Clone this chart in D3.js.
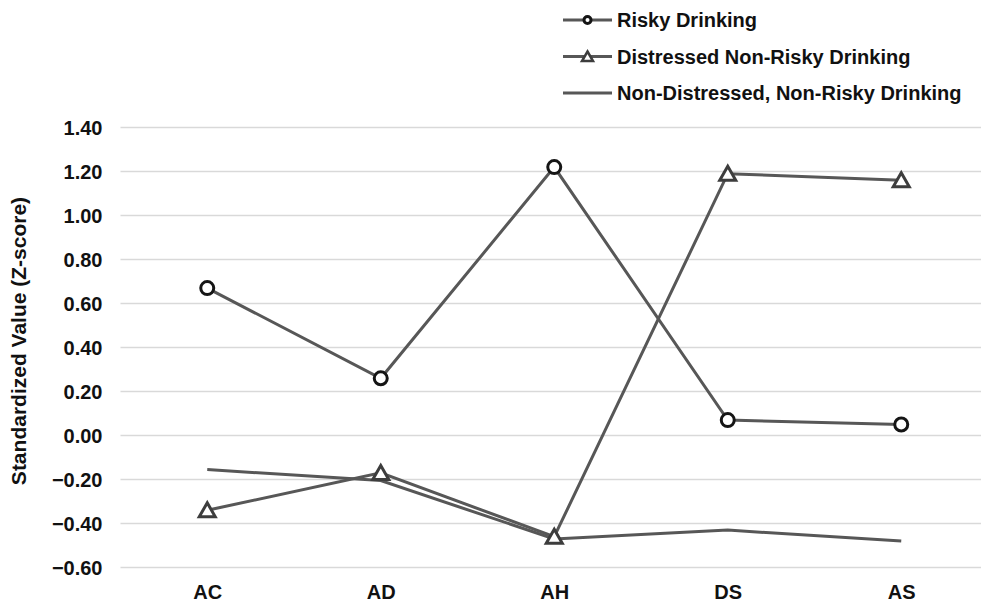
<!DOCTYPE html>
<html>
<head>
<meta charset="utf-8">
<script src="https://cdn.jsdelivr.net/npm/d3@7"></script>
<style>
  html, body { margin: 0; padding: 0; background: #fff; }
  svg { display: block; font-family: "Liberation Sans", Arial, sans-serif; font-weight: bold; }
</style>
</head>
<body>
<svg id="chart" width="981" height="604"></svg>
<script>
// Profile means per group across the five measures
const categories = ["AC", "AD", "AH", "DS", "AS"];
const riskyDrinking = [0.67, 0.26, 1.22, 0.07, 0.05];
const distressedNonRisky = [-0.34, -0.17, -0.46, 1.19, 1.16];
const nonDistressedNonRisky = [-0.155, -0.205, -0.47, -0.43, -0.48];
const yTicks = [-0.6, -0.4, -0.2, 0, 0.2, 0.4, 0.6, 0.8, 1.0, 1.2, 1.4];
const seriesNames = ["Risky Drinking", "Distressed Non-Risky Drinking", "Non-Distressed, Non-Risky Drinking"];

const svg = d3.select("#chart");
const plot = { left: 120.5, right: 988, top: 127.5, bottom: 567.5 };

const x = d3.scalePoint().domain(categories).range([plot.left, plot.right]).padding(0.5);
const y = d3.scaleLinear().domain([-0.6, 1.4]).range([plot.bottom, plot.top]);

// horizontal gridlines
svg.append("g").selectAll("line").data(yTicks).join("line")
  .attr("x1", plot.left).attr("x2", plot.right)
  .attr("y1", d => y(d)).attr("y2", d => y(d))
  .attr("stroke", "#d9d9d9").attr("stroke-width", 1.5);

// y axis labels
const yAxis = svg.append("g").attr("transform", `translate(${plot.left - 18},0)`)
  .call(d3.axisLeft(y).tickValues(yTicks).tickFormat(d3.format(".2f")).tickSize(0).tickPadding(0));
yAxis.select(".domain").remove();
yAxis.selectAll("text").attr("font-size", 20).attr("font-weight", "bold")
  .attr("font-family", "Liberation Sans, Arial, sans-serif").attr("fill", "#111").attr("dy", "0.36em");

// x axis labels
const xAxis = svg.append("g").attr("transform", `translate(0,${plot.bottom + 17})`)
  .call(d3.axisBottom(x).tickSize(0).tickPadding(0));
xAxis.select(".domain").remove();
xAxis.selectAll("text").attr("font-size", 20).attr("font-weight", "bold")
  .attr("font-family", "Liberation Sans, Arial, sans-serif").attr("fill", "#111").attr("dy", "0.72em");

// y axis title
svg.append("text")
  .attr("transform", `translate(18.5,341) rotate(-90)`)
  .attr("text-anchor", "middle").attr("dy", "0.35em")
  .attr("font-size", 21).attr("fill", "#111")
  .text("Standardized Value (Z-score)");

const line = d3.line().x((d, i) => x(categories[i])).y(d => y(d));
const lineColor = "#575757";
const triPath = "M0,-7.5 L8,6.5 L-8,6.5 Z";

// non-distressed series (no markers)
svg.append("path").datum(nonDistressedNonRisky).attr("d", line)
  .attr("fill", "none").attr("stroke", lineColor).attr("stroke-width", 3);

// distressed series with triangles
svg.append("path").datum(distressedNonRisky).attr("d", line)
  .attr("fill", "none").attr("stroke", lineColor).attr("stroke-width", 3);
svg.append("g").selectAll("path").data(distressedNonRisky).join("path")
  .attr("d", triPath)
  .attr("transform", (d, i) => `translate(${x(categories[i])},${y(d)})`)
  .attr("fill", "#fff").attr("stroke", "#3d3d3d").attr("stroke-width", 3);

// risky drinking series with circles
svg.append("path").datum(riskyDrinking).attr("d", line)
  .attr("fill", "none").attr("stroke", lineColor).attr("stroke-width", 3);
svg.append("g").selectAll("circle").data(riskyDrinking).join("circle")
  .attr("cx", (d, i) => x(categories[i])).attr("cy", d => y(d)).attr("r", 6.5)
  .attr("fill", "#fff").attr("stroke", "#151515").attr("stroke-width", 3);

// legend
const legendRows = [20, 56.5, 93];
const legend = svg.append("g");
seriesNames.forEach((name, i) => {
  const g = legend.append("g").attr("transform", `translate(0,${legendRows[i]})`);
  g.append("line").attr("x1", 563).attr("x2", 612).attr("y1", 0).attr("y2", 0)
    .attr("stroke", lineColor).attr("stroke-width", 3);
  if (i === 0) {
    g.append("circle").attr("cx", 587.5).attr("cy", 0).attr("r", 3.5)
      .attr("fill", "#fff").attr("stroke", "#151515").attr("stroke-width", 3);
  } else if (i === 1) {
    g.append("path").attr("d", "M0,-5 L5.5,4.5 L-5.5,4.5 Z")
      .attr("transform", "translate(587.5,0)")
      .attr("fill", "#fff").attr("stroke", "#3d3d3d").attr("stroke-width", 2.5);
  }
  g.append("text").attr("x", 617).attr("y", 0).attr("dy", "0.36em")
    .attr("font-size", 20).attr("fill", "#111").text(name);
});
</script>
</body>
</html>
